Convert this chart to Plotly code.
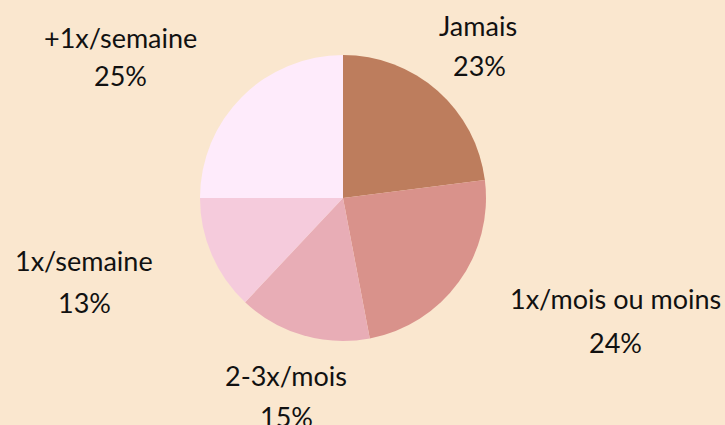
import plotly.graph_objects as go

labels = ["Jamais", "1x/mois ou moins", "2-3x/mois", "1x/semaine", "+1x/semaine"]
values = [23, 24, 15, 13, 25]
colors = ["#BD7D5D", "#D9928B", "#E8ADB6", "#F5CBDC", "#FEEBFB"]

# label positions in pixels (name line, percent line)
W, H = 725, 425
name_pos = [(478, 26), (615, 298), (286, 375), (84, 260), (120, 38)]
pct_pos = [(479, 65), (615, 342), (286, 416), (84, 302), (120, 75)]

fig = go.Figure()

fig.add_trace(
    go.Pie(
        labels=labels,
        values=values,
        sort=False,
        direction="clockwise",
        rotation=0,
        marker=dict(colors=colors, line=dict(width=0)),
        textinfo="none",
        hoverinfo="label+percent",
        domain=dict(x=[200 / W, 486 / W], y=[84 / H, 370 / H]),
        showlegend=False,
    )
)

total = sum(values)
annotations = []
for lab, v, (nx, ny), (px, py) in zip(labels, values, name_pos, pct_pos):
    annotations.append(dict(
        x=nx / W, y=1 - ny / H, xref="paper", yref="paper",
        text=lab, showarrow=False, xanchor="center", yanchor="middle",
    ))
    annotations.append(dict(
        x=px / W, y=1 - py / H, xref="paper", yref="paper",
        text=f"{round(100 * v / total)}%", showarrow=False,
        xanchor="center", yanchor="middle",
    ))

fig.update_layout(
    width=W,
    height=H,
    margin=dict(l=0, r=0, t=0, b=0),
    paper_bgcolor="#FAE7CF",
    plot_bgcolor="#FAE7CF",
    font=dict(family="Lato", size=27, color="#111111"),
    annotations=annotations,
)

fig.write_html(
    "out.html",
    config={"displayModeBar": False},
    post_script="document.body.style.margin='0';document.body.style.background='#FAE7CF';",
)
